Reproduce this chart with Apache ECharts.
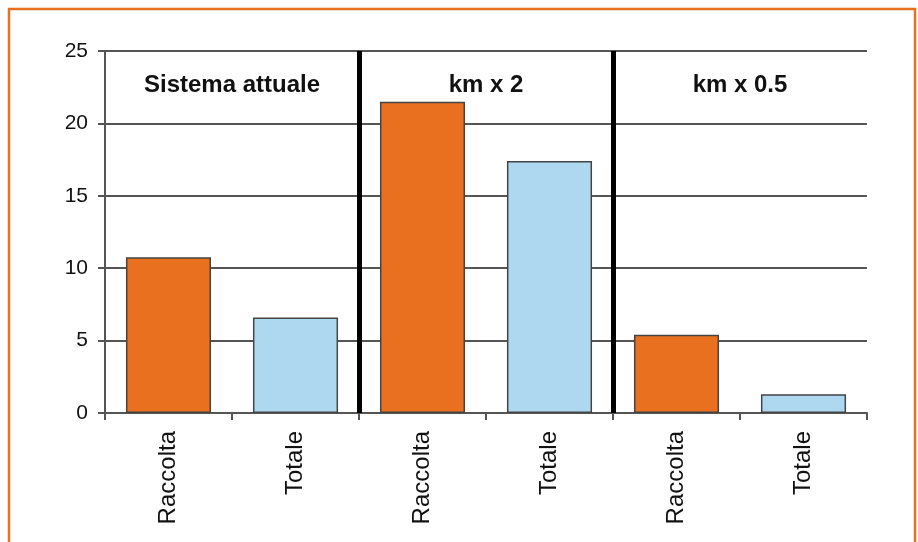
<!DOCTYPE html>
<html>
<head>
<meta charset="utf-8">
<style>
  html, body { margin: 0; padding: 0; background: #fff; }
  #chart { width: 918px; height: 542px; }
</style>
<script src="https://cdn.jsdelivr.net/npm/echarts@6/dist/echarts.min.js"></script>
</head>
<body>
<div id="chart"></div>
<script>
// scenari (etichette in alto)
const groups = ["Sistema attuale", "km x 2", "km x 0.5"];
const barNames = ["Raccolta", "Totale"];
const raccolta = [10.75, 21.5, 5.4];
const totale = [6.6, 17.4, 1.3];
const yTicks = [0, 5, 10, 15, 20, 25];

const colors = ["#E8701E", "#AED8F0"];

// categorie: Raccolta/Totale per ogni scenario
const categories = [];
const values = [];
groups.forEach(function (g, i) {
  categories.push(barNames[0], barNames[1]);
  values.push({ value: raccolta[i], itemStyle: { color: colors[0] } });
  values.push({ value: totale[i], itemStyle: { color: colors[1] } });
});

// linee nere tra gli scenari
const separators = [];
for (let i = 1; i < groups.length; i++) {
  separators.push({ xAxis: i * barNames.length });
}

const chart = echarts.init(document.getElementById("chart"));
chart.setOption({
  animation: false,
  backgroundColor: "#fff",
  textStyle: { fontFamily: "Liberation Sans, Arial, sans-serif" },
  grid: { left: 105, right: 51, top: 51, bottom: 129 },
  graphic: [
    {
      type: "rect",
      shape: { x: 9, y: 9, width: 906, height: 560 },
      style: { fill: null, stroke: "#E8701E", lineWidth: 2.5 },
      silent: true
    }
  ],
  xAxis: [
    {
      type: "category",
      data: categories,
      axisLine: { lineStyle: { color: "#555", width: 2 } },
      axisTick: { show: true, length: 7, lineStyle: { color: "#555", width: 2 } },
      axisLabel: {
        rotate: 90,
        margin: 18,
        fontSize: 24,
        color: "#111",
        interval: 0
      },
      splitLine: { show: false }
    },
    {
      type: "category",
      position: "top",
      data: groups,
      axisLine: { show: false },
      axisTick: { show: false },
      axisLabel: {
        inside: true,
        margin: 22,
        fontSize: 24,
        fontWeight: "bold",
        color: "#111"
      },
      splitLine: { show: false }
    },
    {
      type: "value",
      show: false,
      min: 0,
      max: categories.length
    }
  ],
  yAxis: {
    type: "value",
    min: yTicks[0],
    max: yTicks[yTicks.length - 1],
    interval: 5,
    axisLine: { show: true, lineStyle: { color: "#555", width: 2 } },
    axisTick: { show: true, length: 7, lineStyle: { color: "#555", width: 2 } },
    axisLabel: { margin: 17, fontSize: 21, color: "#111" },
    splitLine: { lineStyle: { color: "#555", width: 2 } }
  },
  series: [
    {
      type: "bar",
      data: values,
      barWidth: "67%",
      itemStyle: { borderColor: "#444", borderWidth: 1.5 }
    },
    {
      type: "line",
      xAxisIndex: 2,
      data: [],
      markLine: {
        silent: true,
        symbol: "none",
        label: { show: false },
        lineStyle: { color: "#000", width: 5, type: "solid" },
        data: separators
      }
    }
  ]
});
</script>
</body>
</html>
